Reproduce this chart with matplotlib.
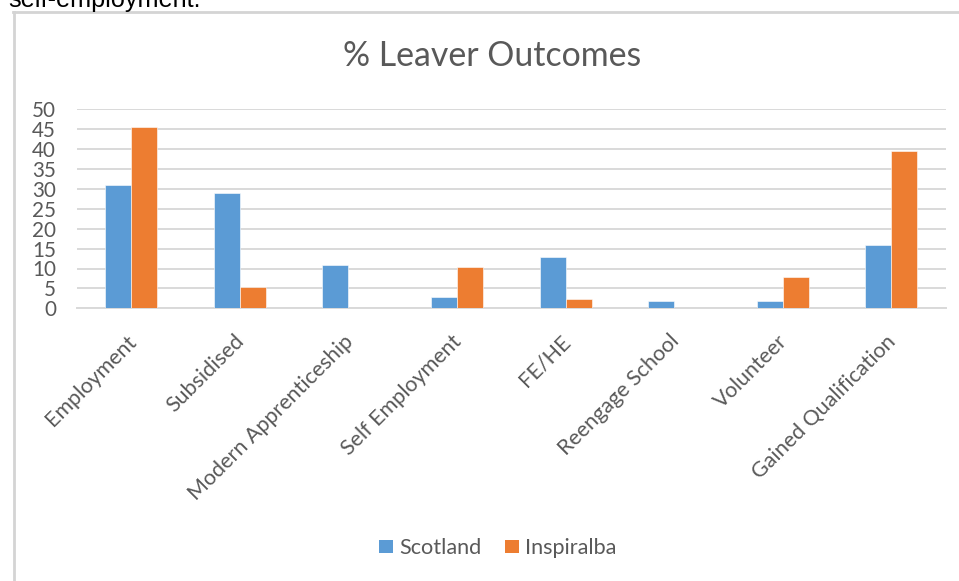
import matplotlib
matplotlib.use("Agg")
import matplotlib.pyplot as plt
import matplotlib.transforms as mtransforms
from matplotlib.lines import Line2D
from matplotlib.patches import Patch
import numpy as np

categories = ["Employment", "Subsidised", "Modern Apprenticeship", "Self Employment",
              "FE/HE", "Reengage School", "Volunteer", "Gained Qualification"]
scotland = [31.0, 28.9, 10.8, 2.8, 12.8, 1.8, 1.8, 15.8]
inspiralba = [45.5, 5.3, 0.0, 10.3, 2.3, 0.0, 7.8, 39.5]
series_names = ["Scotland", "Inspiralba"]
yticks = [0, 5, 10, 15, 20, 25, 30, 35, 40, 45, 50]
title = "% Leaver Outcomes"
top_text = "self-employment."

W, H = 959, 581
DPI = 100
BLUE = "#5B9BD5"
ORANGE = "#ED7D31"
GRID = "#D9D9D9"
TXT = "#595959"
FAM = ["Lato", "DejaVu Sans"]

fig = plt.figure(figsize=(W / DPI, H / DPI), dpi=DPI)
fig.patch.set_facecolor("white")
renderer = fig.canvas.get_renderer()


def text_width(s, size, family):
    t = fig.text(0, 0, s, fontsize=size, family=family)
    w = t.get_window_extent(renderer).width
    t.remove()
    return w


def fit_size(s, target, family, base=20.0):
    return base * target / text_width(s, base, family)


# axes placement (pixels)
x0, x1 = 77, 945.7
y0, y50 = 308.3, 109.3
ax = fig.add_axes([x0 / W, 1 - y0 / H, (x1 - x0) / W, (y0 - y50) / H])

n = len(categories)
x = np.arange(n)
bw = 0.24
ax.bar(x - bw / 2, scotland, bw, color=BLUE, edgecolor="white", linewidth=0.4, zorder=3)
ax.bar(x + bw / 2, inspiralba, bw, color=ORANGE, edgecolor="white", linewidth=0.4, zorder=3)

ax.set_xlim(-0.5, n - 0.5)
ax.set_ylim(0, 50)
ax.set_yticks(yticks)
ax.yaxis.grid(True, color=GRID, linewidth=1.4, zorder=0)
ax.set_axisbelow(True)
for s in ["top", "right", "left"]:
    ax.spines[s].set_visible(False)
ax.spines["bottom"].set_color(GRID)
ax.spines["bottom"].set_linewidth(1.4)

ysize = fit_size("50", 24, FAM)
ax.tick_params(axis="y", length=0, pad=21 * 72 / DPI, labelsize=ysize, labelcolor=TXT)
for lab in ax.get_yticklabels():
    lab.set_family(FAM)

# x tick labels drawn manually (rotated, anchored at their end)
ax.set_xticks([])
xsize = fit_size("Modern Apprenticeship", 224, FAM)
trans = ax.get_xaxis_transform()
offset = mtransforms.ScaledTranslation(1.5 / DPI, -30 / DPI, fig.dpi_scale_trans)
for xi, c in zip(x, categories):
    ax.text(xi, 0, c, transform=trans + offset, rotation=45, ha="right", va="center",
            rotation_mode="anchor", fontsize=xsize, color=TXT, family=FAM)

# title
tsize = fit_size(title, 299, FAM)
fig.text(492 / W, 1 - 66 / H, title, ha="center", va="baseline", fontsize=tsize,
         color=TXT, family=FAM)

# legend
lsize = fit_size("Scotland", 82, FAM)
handles = [Patch(facecolor=BLUE, edgecolor="none"), Patch(facecolor=ORANGE, edgecolor="none")]
fs_px = lsize * DPI / 72
fig.legend(handles, series_names, loc="center", bbox_to_anchor=(498 / W, 1 - 548 / H),
           ncol=2, frameon=False, prop={"family": FAM, "size": lsize},
           labelcolor=TXT, handlelength=14 / fs_px, handleheight=13 / fs_px,
           handletextpad=6 / fs_px, columnspacing=24 / fs_px, borderpad=0)

# surrounding frame of the chart object
fig.add_artist(Line2D([13 / W, 958 / W], [1 - 12 / H, 1 - 12 / H], color="#D4D4D4",
                      linewidth=2.0, transform=fig.transFigure))
fig.add_artist(Line2D([14 / W, 14 / W], [1 - 12 / H, 0], color="#D4D4D4",
                      linewidth=2.0, transform=fig.transFigure))

# cropped text from the document above the chart (cut off in the reference too)
psize = fit_size(top_text, 192, ["Liberation Sans", "DejaVu Sans"])
fig.text(8 / W, 1 - 6.5 / H, top_text, ha="left", va="baseline", fontsize=psize,
         color="black", family=["Liberation Sans", "DejaVu Sans"])

fig.savefig("out.png", dpi=DPI)
